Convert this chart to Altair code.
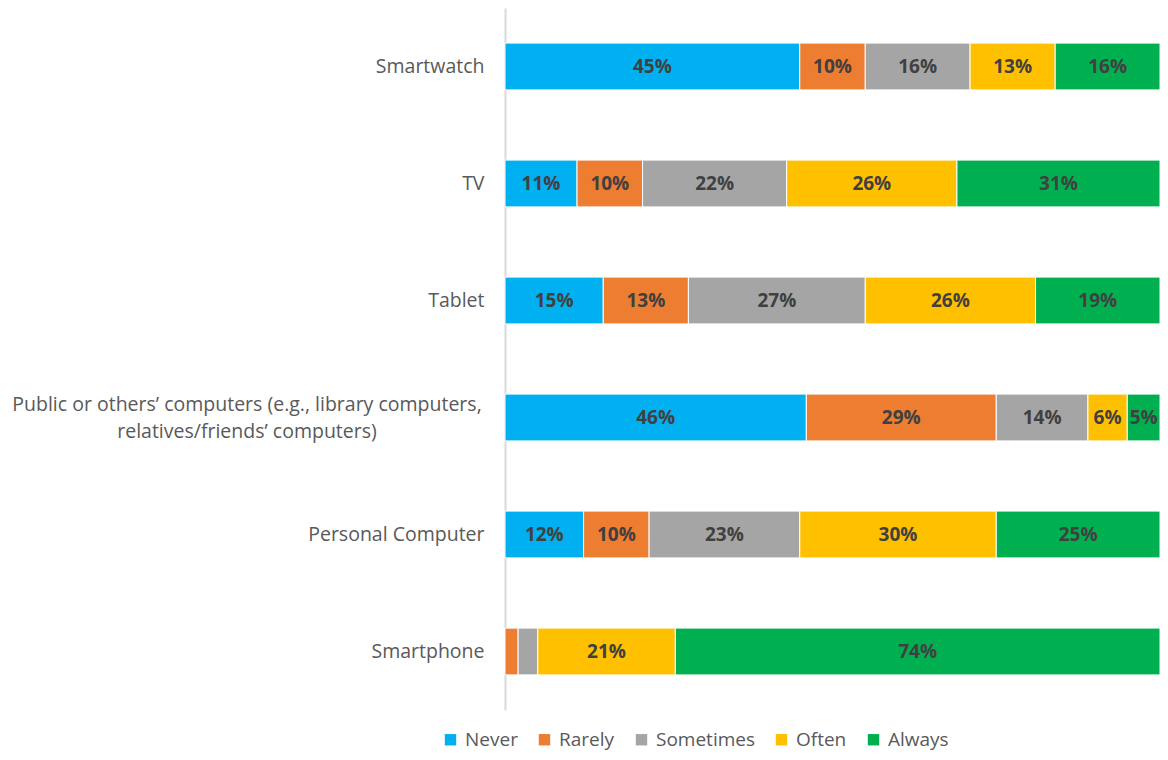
import altair as alt
import pandas as pd

devices = [
    "Smartwatch",
    "TV",
    "Tablet",
    "Public or others\u2019 computers (e.g., library computers,|relatives/friends\u2019 computers)",
    "Personal Computer",
    "Smartphone",
]
levels = ["Never", "Rarely", "Sometimes", "Often", "Always"]
colors = ["#00B0F0", "#ED7D31", "#A5A5A5", "#FFC000", "#00B050"]

never = [45, 11, 15, 46, 12, 0]
rarely = [10, 10, 13, 29, 10, 2]
sometimes = [16, 22, 27, 14, 23, 3]
often = [13, 26, 26, 6, 30, 21]
always = [16, 31, 19, 5, 25, 74]

series = [never, rarely, sometimes, often, always]
rows = []
for li, (lvl, vals) in enumerate(zip(levels, series)):
    for d, v in zip(devices, vals):
        rows.append({"device": d, "level": lvl, "order": li, "value": v})
df = pd.DataFrame(rows)

multi = [d for d in devices if "|" in d]
labels_df = pd.DataFrame({"device": multi})

FONT = "Open Sans"
LABEL_COLOR = "#595959"
LABEL_SIZE = 19.5

y_enc = alt.Y(
    "device:N",
    sort=devices,
    title=None,
    scale=alt.Scale(paddingInner=0.6, paddingOuter=0.3),
    axis=alt.Axis(
        labelExpr="indexof(datum.label, '|') >= 0 ? '' : datum.label",
        labelFont=FONT,
        labelFontSize=LABEL_SIZE,
        labelColor=LABEL_COLOR,
        labelPadding=21,
        labelLimit=600,
        ticks=False,
        domain=True,
        domainColor="#D9D9D9",
        domainWidth=2,
        grid=False,
    ),
)

bars = alt.Chart(df).mark_bar(stroke="white", strokeWidth=1).encode(
    y=y_enc,
    x=alt.X("value:Q", stack="zero", scale=alt.Scale(domain=[0, 100]), axis=None),
    color=alt.Color(
        "level:N",
        sort=levels,
        scale=alt.Scale(domain=levels, range=colors),
        legend=alt.Legend(
            title=None,
            orient="none",
            direction="horizontal",
            legendX=-64,
            legendY=722,
            symbolType="square",
            symbolSize=130,
            symbolStrokeWidth=0,
            labelFont=FONT,
            labelFontSize=19,
            labelColor=LABEL_COLOR,
            columnPadding=17,
            labelOffset=5,
        ),
    ),
    order=alt.Order("order:Q"),
)

texts = (
    alt.Chart(df)
    .transform_stack(stack="value", groupby=["device"], sort=[alt.SortField("order")], as_=["x0", "x1"])
    .transform_calculate(mid="(datum.x0 + datum.x1) / 2", lab="datum.value + '%'")
    .transform_filter("datum.value >= 5")
    .mark_text(font=FONT, fontSize=19, fontWeight="bold", color="#404040")
    .encode(y=alt.Y("device:N", sort=devices), x=alt.X("mid:Q"), text="lab:N")
)

multi_label = (
    alt.Chart(labels_df)
    .mark_text(
        font=FONT, fontSize=LABEL_SIZE, color=LABEL_COLOR, align="center", baseline="middle",
        lineBreak="|", lineHeight=27, dy=-13,
    )
    .encode(y=alt.Y("device:N", sort=devices), x=alt.value(-258), text="device:N")
)

chart = (
    alt.layer(bars, texts, multi_label)
    .properties(
        width=655,
        height=702,
        autosize=alt.AutoSizeParams(type="none"),
        padding={"left": 497, "top": 0, "right": 0, "bottom": 42},
    )
    .configure_view(stroke=None)
)

chart.save("out.html", embed_options={"renderer": "svg", "actions": False})
